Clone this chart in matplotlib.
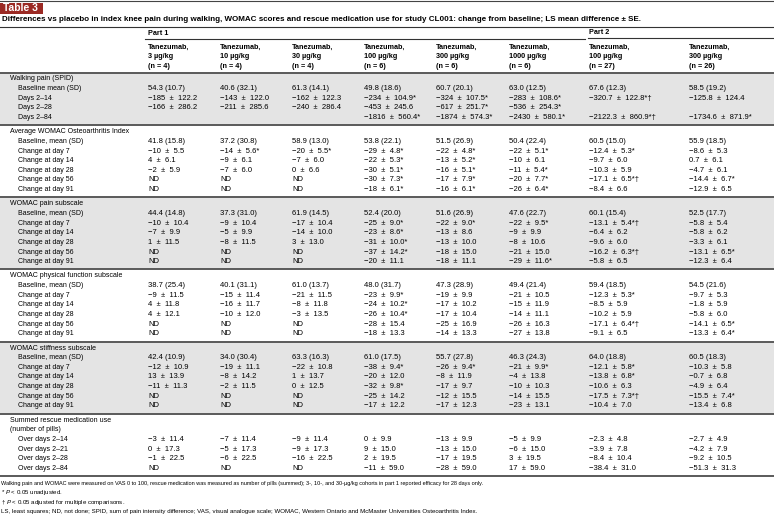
import matplotlib
matplotlib.use('Agg')
import matplotlib.pyplot as plt
from matplotlib import font_manager

# condensed sans if the machine has one, otherwise plain Liberation Sans at a smaller size
names = {f.name for f in font_manager.fontManager.ttflist}
if 'Liberation Sans Narrow' in names:
    body_font, shrink = 'Liberation Sans Narrow', 1.0
else:
    body_font, shrink = 'Liberation Sans', 0.84
plt.rc('font', family=[body_font, 'DejaVu Sans'])
plt.rc('mathtext', fontset='custom', it=body_font + ':italic', rm=body_font)

# ---- table data ----
part_labels = ['Part 1', 'Part 2']
col_doses = ['3 µg/kg', '10 µg/kg', '30 µg/kg', '100 µg/kg', '300 µg/kg', '1000 µg/kg',
             '100 µg/kg', '300 µg/kg']
col_n = [4, 4, 4, 6, 6, 6, 27, 26]

walking_title = ['Walking pain (SPID)']
walking_rows = ['Baseline mean (SD)', 'Days 2–14', 'Days 2–28', 'Days 2–84']
walking_vals = [
    ['54.3 (10.7)', '40.6 (32.1)', '61.3 (14.1)', '49.8 (18.6)', '60.7 (20.1)', '63.0 (12.5)', '67.6 (12.3)', '58.5 (19.2)'],
    ['−185 ± 122.2', '−143 ± 122.0', '−162 ± 122.3', '−234 ± 104.9*', '−324 ± 107.5*', '−283 ± 108.6*', '−320.7 ± 122.8*†', '−125.8 ± 124.4'],
    ['−166 ± 286.2', '−211 ± 285.6', '−240 ± 286.4', '−453 ± 245.6', '−617 ± 251.7*', '−536 ± 254.3*', '', ''],
    ['', '', '', '−1816 ± 560.4*', '−1874 ± 574.3*', '−2430 ± 580.1*', '−2122.3 ± 860.9*†', '−1734.6 ± 871.9*'],
]

womac_title = ['Average WOMAC Osteoarthritis Index']
womac_rows = ['Baseline, mean (SD)', 'Change at day 7', 'Change at day 14', 'Change at day 28',
              'Change at day 56', 'Change at day 91']
womac_vals = [
    ['41.8 (15.8)', '37.2 (30.8)', '58.9 (13.0)', '53.8 (22.1)', '51.5 (26.9)', '50.4 (22.4)', '60.5 (15.0)', '55.9 (18.5)'],
    ['−10 ± 5.5', '−14 ± 5.6*', '−20 ± 5.5*', '−29 ± 4.8*', '−22 ± 4.8*', '−22 ± 5.1*', '−12.4 ± 5.3*', '−8.6 ± 5.3'],
    ['4 ± 6.1', '−9 ± 6.1', '−7 ± 6.0', '−22 ± 5.3*', '−13 ± 5.2*', '−10 ± 6.1', '−9.7 ± 6.0', '0.7 ± 6.1'],
    ['−2 ± 5.9', '−7 ± 6.0', '0 ± 6.6', '−30 ± 5.1*', '−16 ± 5.1*', '−11 ± 5.4*', '−10.3 ± 5.9', '−4.7 ± 6.1'],
    ['ND', 'ND', 'ND', '−30 ± 7.3*', '−17 ± 7.9*', '−20 ± 7.7*', '−17.1 ± 6.5*†', '−14.4 ± 6.7*'],
    ['ND', 'ND', 'ND', '−18 ± 6.1*', '−16 ± 6.1*', '−26 ± 6.4*', '−8.4 ± 6.6', '−12.9 ± 6.5'],
]

pain_title = ['WOMAC pain subscale']
pain_vals = [
    ['44.4 (14.8)', '37.3 (31.0)', '61.9 (14.5)', '52.4 (20.0)', '51.6 (26.9)', '47.6 (22.7)', '60.1 (15.4)', '52.5 (17.7)'],
    ['−10 ± 10.4', '−9 ± 10.4', '−17 ± 10.4', '−25 ± 9.0*', '−22 ± 9.0*', '−22 ± 9.5*', '−13.1 ± 5.4*†', '−5.8 ± 5.4'],
    ['−7 ± 9.9', '−5 ± 9.9', '−14 ± 10.0', '−23 ± 8.6*', '−13 ± 8.6', '−9 ± 9.9', '−6.4 ± 6.2', '−5.8 ± 6.2'],
    ['1 ± 11.5', '−8 ± 11.5', '3 ± 13.0', '−31 ± 10.0*', '−13 ± 10.0', '−8 ± 10.6', '−9.6 ± 6.0', '−3.3 ± 6.1'],
    ['ND', 'ND', 'ND', '−37 ± 14.2*', '−18 ± 15.0', '−21 ± 15.0', '−16.2 ± 6.3*†', '−13.1 ± 6.5*'],
    ['ND', 'ND', 'ND', '−20 ± 11.1', '−18 ± 11.1', '−29 ± 11.6*', '−5.8 ± 6.5', '−12.3 ± 6.4'],
]

function_title = ['WOMAC physical function subscale']
function_vals = [
    ['38.7 (25.4)', '40.1 (31.1)', '61.0 (13.7)', '48.0 (31.7)', '47.3 (28.9)', '49.4 (21.4)', '59.4 (18.5)', '54.5 (21.6)'],
    ['−9 ± 11.5', '−15 ± 11.4', '−21 ± 11.5', '−23 ± 9.9*', '−19 ± 9.9', '−21 ± 10.5', '−12.3 ± 5.3*', '−9.7 ± 5.3'],
    ['4 ± 11.8', '−16 ± 11.7', '−8 ± 11.8', '−24 ± 10.2*', '−17 ± 10.2', '−15 ± 11.9', '−8.5 ± 5.9', '−1.8 ± 5.9'],
    ['4 ± 12.1', '−10 ± 12.0', '−3 ± 13.5', '−26 ± 10.4*', '−17 ± 10.4', '−14 ± 11.1', '−10.2 ± 5.9', '−5.8 ± 6.0'],
    ['ND', 'ND', 'ND', '−28 ± 15.4', '−25 ± 16.9', '−26 ± 16.3', '−17.1 ± 6.4*†', '−14.1 ± 6.5*'],
    ['ND', 'ND', 'ND', '−18 ± 13.3', '−14 ± 13.3', '−27 ± 13.8', '−9.1 ± 6.5', '−13.3 ± 6.4*'],
]

stiff_title = ['WOMAC stiffness subscale']
stiff_vals = [
    ['42.4 (10.9)', '34.0 (30.4)', '63.3 (16.3)', '61.0 (17.5)', '55.7 (27.8)', '46.3 (24.3)', '64.0 (18.8)', '60.5 (18.3)'],
    ['−12 ± 10.9', '−19 ± 11.1', '−22 ± 10.8', '−38 ± 9.4*', '−26 ± 9.4*', '−21 ± 9.9*', '−12.1 ± 5.8*', '−10.3 ± 5.8'],
    ['13 ± 13.9', '−8 ± 14.2', '1 ± 13.7', '−20 ± 12.0', '−8 ± 11.9', '−4 ± 13.8', '−13.8 ± 6.8*', '−0.7 ± 6.8'],
    ['−11 ± 11.3', '−2 ± 11.5', '0 ± 12.5', '−32 ± 9.8*', '−17 ± 9.7', '−10 ± 10.3', '−10.6 ± 6.3', '−4.9 ± 6.4'],
    ['ND', 'ND', 'ND', '−25 ± 14.2', '−12 ± 15.5', '−14 ± 15.5', '−17.5 ± 7.3*†', '−15.5 ± 7.4*'],
    ['ND', 'ND', 'ND', '−17 ± 12.2', '−17 ± 12.3', '−23 ± 13.1', '−10.4 ± 7.0', '−13.4 ± 6.8'],
]

rescue_title = ['Summed rescue medication use', '(number of pills)']
rescue_rows = ['Over days 2–14', 'Over days 2–21', 'Over days 2–28', 'Over days 2–84']
rescue_vals = [
    ['−3 ± 11.4', '−7 ± 11.4', '−9 ± 11.4', '0 ± 9.9', '−13 ± 9.9', '−5 ± 9.9', '−2.3 ± 4.8', '−2.7 ± 4.9'],
    ['0 ± 17.3', '−5 ± 17.3', '−9 ± 17.3', '9 ± 15.0', '−13 ± 15.0', '−6 ± 15.0', '−3.9 ± 7.8', '−4.2 ± 7.9'],
    ['−1 ± 22.5', '−6 ± 22.5', '−16 ± 22.5', '2 ± 19.5', '−17 ± 19.5', '3 ± 19.5', '−8.4 ± 10.4', '−9.2 ± 10.5'],
    ['ND', 'ND', 'ND', '−11 ± 59.0', '−28 ± 59.0', '17 ± 59.0', '−38.4 ± 31.0', '−51.3 ± 31.3'],
]

sections = [
    (walking_title, walking_rows, walking_vals),
    (womac_title, womac_rows, womac_vals),
    (pain_title, womac_rows, pain_vals),
    (function_title, womac_rows, function_vals),
    (stiff_title, womac_rows, stiff_vals),
    (rescue_title, rescue_rows, rescue_vals),
]

title = ('Differences vs placebo in index knee pain during walking, WOMAC scores and rescue '
         'medication use for study CL001: change from baseline; LS mean difference ± SE.')
footnotes = [
    'Walking pain and WOMAC were measured on VAS 0 to 100, rescue medication was measured as number of pills '
    '(summed); 3-, 10-, and 30-µg/kg cohorts in part 1 reported efficacy for 28 days only.',
    '* $P$ < 0.05 unadjusted.',
    '† $P$ < 0.05 adjusted for multiple comparisons.',
    'LS, least squares; ND, not done; SPID, sum of pain intensity difference; VAS, visual analogue scale; '
    'WOMAC, Western Ontario and McMaster Universities Osteoarthritis Index.',
]
footnote_widths = [478, None, None, 480]

# ---- layout (pixel coordinates) ----
W, H = 774, 527
col_x = [148, 220, 292, 364, 436, 509, 589, 689]
fs_label = 6.0 * shrink
fs_num = 6.6 * shrink
fs_head = 6.2 * shrink
line_col = '#5a5a5a'
shade = '#e4e4e4'

fig = plt.figure(figsize=(W / 100, H / 100), dpi=100)
ax = fig.add_axes([0, 0, 1, 1])
ax.set_xlim(0, W)
ax.set_ylim(H, 0)
ax.axis('off')
renderer = fig.canvas.get_renderer()


def fit_width(t, target):
    bb = t.get_window_extent(renderer)
    t.set_fontsize(t.get_fontsize() * target / bb.width)


# header block
ax.plot([0, W], [1, 1], color='#444444', lw=0.8)
ax.add_patch(plt.Rectangle((0, 2.5), 43, 11, color='#9b2a24', lw=0))
ax.text(3, 8, 'Table 3', color='white', fontsize=7.4, fontweight='bold',
        family='Liberation Sans', va='center')
t = ax.text(2, 19.5, title, fontsize=6.0, fontweight='bold', family='Liberation Sans', va='center')
fit_width(t, 648)
ax.plot([0, W], [27, 27], color='#333333', lw=0.8)

ax.text(col_x[0], 33.5, part_labels[0], fontsize=fs_head, fontweight='bold', va='center')
ax.text(col_x[6], 32, part_labels[1], fontsize=fs_head, fontweight='bold', va='center')
ax.plot([145, 585], [39, 39], color='#333333', lw=0.8)
ax.plot([588, W], [38, 38], color='#333333', lw=0.8)

for x, dose, n in zip(col_x, col_doses, col_n):
    ax.text(x, 47, 'Tanezumab,', fontsize=fs_head, fontweight='bold', va='center')
    ax.text(x, 56.5, dose, fontsize=fs_head, fontweight='bold', va='center')
    ax.text(x, 66, '(n = %d)' % n, fontsize=fs_head, fontweight='bold', va='center')

# body
y = 72.5
ax.plot([0, W], [y, y], color=line_col, lw=1.4)
rg, pad_top, pad_bot = 9.63, 6.5, 7.8
for k, (titles, rows, vals) in enumerate(sections):
    top = y
    yy = top + pad_top
    for tl in titles:
        ax.text(10, yy, tl, fontsize=fs_label, va='center')
        yy += rg
    for label, row in zip(rows, vals):
        ax.text(18, yy, label, fontsize=fs_label, va='center')
        for x, cell in zip(col_x, row):
            if cell:
                ax.text(x, yy, cell.replace(' ± ', '  ±  '), fontsize=fs_num, va='center')
        yy += rg
    bottom = yy - rg + pad_bot
    if k % 2 == 0:
        ax.axhspan(top, bottom, color=shade, lw=0, zorder=0)
    ax.plot([0, W], [bottom, bottom], color=line_col, lw=1.4)
    y = bottom

# footnotes
fy = y + 7.5
for note, wid in zip(footnotes, footnote_widths):
    t = ax.text(1, fy, note, fontsize=4.4, va='center')
    if wid:
        fit_width(t, wid)
    fy += 9.4

fig.savefig('out.png', dpi=100)
